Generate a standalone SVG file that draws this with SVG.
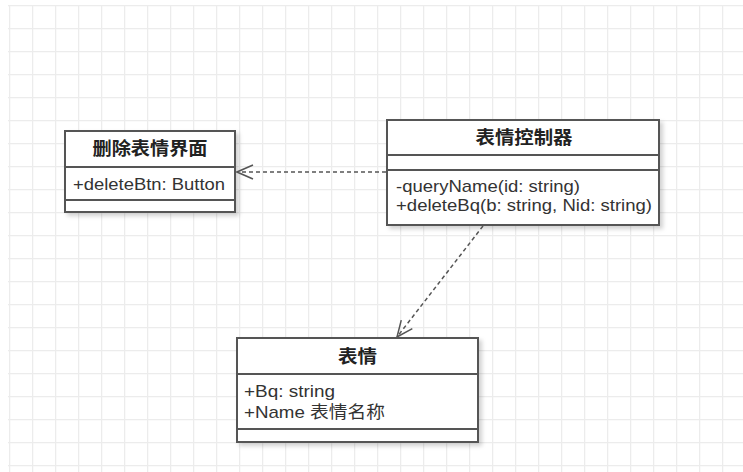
<svg xmlns="http://www.w3.org/2000/svg" width="743" height="472" viewBox="0 0 743 472">
<style>
.box{fill:#fff;stroke:#555;stroke-width:2}
.sep{stroke:#555;stroke-width:2}
.title{font-family:"Liberation Sans","Noto Sans CJK SC",sans-serif;font-weight:bold;font-size:18px;fill:#222;text-anchor:middle}
.txt{font-family:"Liberation Sans","Noto Sans CJK SC",sans-serif;font-size:17px;fill:#333}
.conn{fill:none;stroke:#555;stroke-width:1.5;stroke-dasharray:4 3}
</style>
<defs>
<pattern id="grid" x="9" y="5" width="23" height="23" patternUnits="userSpaceOnUse">
<path d="M0 0.5H23M0.5 0V23" fill="none" stroke="#ececec" stroke-width="1.5"/>
</pattern>
<filter id="sh" x="-10%" y="-10%" width="130%" height="140%">
<feDropShadow dx="3" dy="3" stdDeviation="2" flood-color="#000" flood-opacity="0.18"/>
</filter>
<marker id="open" viewBox="0 0 20 20" refX="19" refY="10" markerWidth="20" markerHeight="20" markerUnits="userSpaceOnUse" orient="auto">
<path d="M3 3L19 10L3 17" fill="none" stroke="#555" stroke-width="1.5"/>
</marker>
</defs>
<rect x="0" y="0" width="743" height="472" fill="#fff"/>
<rect x="8" y="5" width="735" height="467" fill="url(#grid)"/>

<g id="node-delete-ui">
<rect class="box" x="65" y="131" width="170" height="81" filter="url(#sh)"/>
<line class="sep" x1="65" y1="167" x2="235" y2="167"/>
<line class="sep" x1="65" y1="200" x2="235" y2="200"/>
<text class="title" x="150" y="155" textLength="115" lengthAdjust="spacingAndGlyphs">删除表情界面</text>
<text class="txt" x="73" y="190" textLength="152" lengthAdjust="spacingAndGlyphs">+deleteBtn: Button</text>
</g>

<g id="node-controller">
<rect class="box" x="387" y="120" width="272" height="105" filter="url(#sh)"/>
<line class="sep" x1="387" y1="155" x2="659" y2="155"/>
<line class="sep" x1="387" y1="170" x2="659" y2="170"/>
<text class="title" x="524" y="144" textLength="97" lengthAdjust="spacingAndGlyphs">表情控制器</text>
<text class="txt" x="396" y="192" textLength="184" lengthAdjust="spacingAndGlyphs">-queryName(id: string)</text>
<text class="txt" x="396" y="211" textLength="256" lengthAdjust="spacingAndGlyphs">+deleteBq(b: string, Nid: string)</text>
</g>

<g id="node-emoji">
<rect class="box" x="237" y="338" width="241" height="104" filter="url(#sh)"/>
<line class="sep" x1="237" y1="374" x2="478" y2="374"/>
<line class="sep" x1="237" y1="429" x2="478" y2="429"/>
<text class="title" x="357.5" y="363" textLength="39" lengthAdjust="spacingAndGlyphs">表情</text>
<text class="txt" x="244" y="397" textLength="91" lengthAdjust="spacingAndGlyphs">+Bq: string</text>
<text class="txt" x="244" y="418" textLength="141" lengthAdjust="spacingAndGlyphs">+Name 表情名称</text>
</g>

<g id="connectors">
<path class="conn" d="M386 172H237" marker-end="url(#open)"/>
<path class="conn" d="M483 226L397 337" marker-end="url(#open)"/>
</g>
</svg>
